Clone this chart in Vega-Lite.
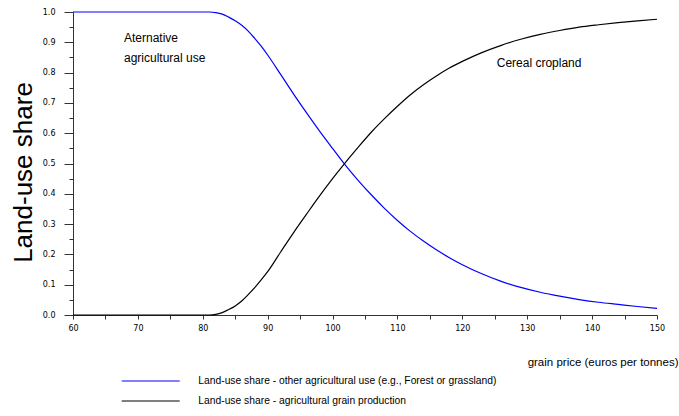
{
  "$schema": "https://vega.github.io/schema/vega-lite/v6.json",
  "width": 584,
  "height": 303,
  "autosize": {"type": "none"},
  "padding": {"left": 73, "top": 12, "right": 22, "bottom": 101},
  "background": "white",
  "config": {
    "view": {"stroke": null},
    "axis": {"grid": false, "ticks": true, "labelFont": "DejaVu Sans", "labelFontSize": 8, "labelColor": "#000", "domainColor": "#333", "tickColor": "#333", "domainWidth": 1, "tickWidth": 1}
  },
  "datasets": {
    "curves": [
      {"p": 60, "grain": 0, "other": 1},
      {"p": 65, "grain": 0, "other": 1},
      {"p": 70, "grain": 0, "other": 1},
      {"p": 75, "grain": 0, "other": 1},
      {"p": 80, "grain": 0, "other": 1},
      {"p": 81, "grain": 0, "other": 1},
      {"p": 82, "grain": 0.002, "other": 0.998},
      {"p": 83, "grain": 0.008, "other": 0.993},
      {"p": 84, "grain": 0.018, "other": 0.983},
      {"p": 85, "grain": 0.030, "other": 0.971},
      {"p": 86, "grain": 0.046, "other": 0.956},
      {"p": 87, "grain": 0.067, "other": 0.937},
      {"p": 88, "grain": 0.090, "other": 0.913},
      {"p": 89, "grain": 0.116, "other": 0.887},
      {"p": 90, "grain": 0.143, "other": 0.858},
      {"p": 92, "grain": 0.208, "other": 0.794},
      {"p": 94, "grain": 0.272, "other": 0.729},
      {"p": 96, "grain": 0.333, "other": 0.667},
      {"p": 98, "grain": 0.393, "other": 0.607},
      {"p": 100, "grain": 0.450, "other": 0.550},
      {"p": 102, "grain": 0.504, "other": 0.494},
      {"p": 104, "grain": 0.555, "other": 0.443},
      {"p": 106, "grain": 0.604, "other": 0.396},
      {"p": 108, "grain": 0.648, "other": 0.352},
      {"p": 110, "grain": 0.689, "other": 0.312},
      {"p": 112, "grain": 0.727, "other": 0.276},
      {"p": 114, "grain": 0.760, "other": 0.244},
      {"p": 116, "grain": 0.789, "other": 0.215},
      {"p": 118, "grain": 0.815, "other": 0.189},
      {"p": 120, "grain": 0.837, "other": 0.166},
      {"p": 123, "grain": 0.866, "other": 0.136},
      {"p": 126, "grain": 0.890, "other": 0.111},
      {"p": 129, "grain": 0.910, "other": 0.091},
      {"p": 132, "grain": 0.926, "other": 0.075},
      {"p": 135, "grain": 0.939, "other": 0.062},
      {"p": 138, "grain": 0.950, "other": 0.051},
      {"p": 141, "grain": 0.958, "other": 0.042},
      {"p": 144, "grain": 0.965, "other": 0.035},
      {"p": 147, "grain": 0.971, "other": 0.028},
      {"p": 150, "grain": 0.976, "other": 0.022}
    ],
    "notes": [
      {"p": 67.86, "share": 0.902, "label": "Aternative"},
      {"p": 67.86, "share": 0.836, "label": "agricultural use"},
      {"p": 125.3, "share": 0.818, "label": "Cereal cropland"}
    ]
  },
  "encoding": {
    "x": {
      "field": "p", "type": "quantitative",
      "scale": {"domain": [60, 150], "nice": false, "zero": false},
      "axis": {
        "values": [60, 65, 70, 75, 80, 85, 90, 95, 100, 105, 110, 115, 120, 125, 130, 135, 140, 145, 150],
        "labelExpr": "datum.value % 10 == 0 ? datum.label : ''",
        "ticks": true, "tickSize": 4, "labelPadding": 5, "labelFlush": false, "labelOverlap": false,
        "title": "grain price (euros per tonnes)",
        "titleFont": "Liberation Sans", "titleFontSize": 11.5, "titleFontWeight": "normal", "titleColor": "#000",
        "titleAlign": "right", "titleAnchor": null, "titleX": 605, "titleY": 50, "titleBaseline": "alphabetic"
      }
    },
    "y": {
      "field": "share", "type": "quantitative",
      "scale": {"domain": [0, 1], "nice": false},
      "axis": {
        "values": [0, 0.05, 0.1, 0.15, 0.2, 0.25, 0.3, 0.35, 0.4, 0.45, 0.5, 0.55, 0.6, 0.65, 0.7, 0.75, 0.8, 0.85, 0.9, 0.95, 1],
        "labelExpr": "round(datum.value * 100) % 10 == 0 ? format(datum.value, '.1f') : ''",
        "ticks": true,
        "tickSize": {"condition": {"test": "round(datum.value * 100) % 10 == 0", "value": 9}, "value": 4},
        "labelPadding": 9, "labelOverlap": false, "labelFlush": false,
        "title": "Land-use share",
        "titleFont": "Liberation Sans", "titleFontSize": 26, "titleFontWeight": "normal", "titleColor": "#000",
        "titleAngle": -90, "titleAlign": "center", "titleAnchor": null, "titleX": -42, "titleY": 160, "titleBaseline": "alphabetic"
      }
    }
  },
  "layer": [
    {
      "data": {"name": "curves"},
      "transform": [{"fold": ["other", "grain"], "as": ["series", "share"]}],
      "mark": {"type": "line", "strokeWidth": 1.2, "interpolate": "monotone"},
      "encoding": {
        "color": {
          "field": "series", "type": "nominal",
          "scale": {"domain": ["other", "grain"], "range": ["#0000ff", "#000000"]},
          "legend": {
            "orient": "none", "legendX": 71.2, "legendY": 362.5, "direction": "vertical",
            "title": null, "padding": 0, "offset": 0,
            "symbolType": "M-5,0H5", "symbolSize": 134.56, "symbolStrokeWidth": 1.2,
            "labelFont": "Liberation Sans", "labelFontSize": 10.3, "labelColor": "#000", "labelLimit": 600,
            "labelOffset": 41.1, "rowPadding": 8,
            "labelExpr": "datum.value == 'other' ? 'Land-use share - other agricultural use (e.g., Forest or grassland)' : 'Land-use share - agricultural grain production'"
          }
        }
      }
    },
    {
      "data": {"name": "notes"},
      "mark": {"type": "text", "align": "left", "baseline": "alphabetic", "font": "Liberation Sans", "fontSize": 12, "color": "#000"},
      "encoding": {
        "text": {"field": "label"}
      }
    }
  ]
}
